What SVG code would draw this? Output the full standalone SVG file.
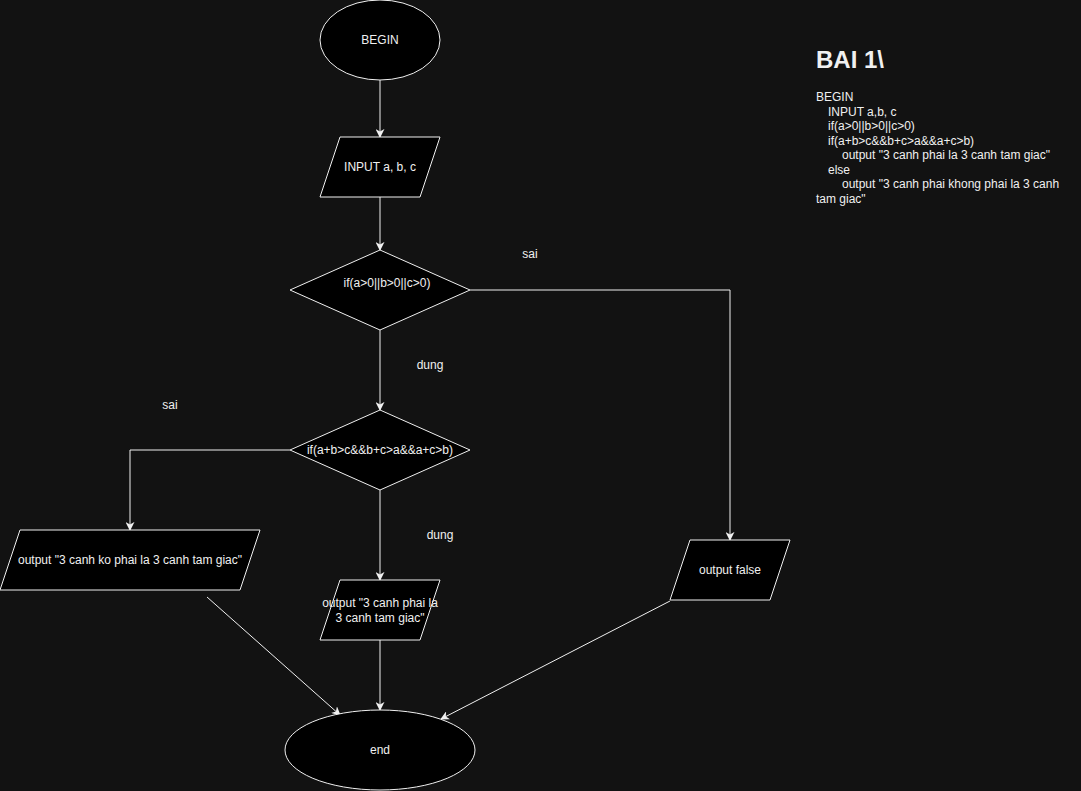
<svg xmlns="http://www.w3.org/2000/svg" width="1081" height="791" viewBox="0 0 1081 791">
<defs>
<style>
.shape{fill:#000;stroke:#f0f0f0;stroke-width:1}
.edge{fill:none;stroke:#f0f0f0;stroke-width:1}
text{font-family:"Liberation Sans",Arial,Helvetica,sans-serif;font-size:12px;fill:#f0f0f0}
.c{text-anchor:middle;dominant-baseline:central}
.title{font-size:24px;font-weight:bold}
</style>
<marker id="arr" viewBox="0 0 10 10" refX="9" refY="5" markerWidth="9" markerHeight="9" markerUnits="userSpaceOnUse" orient="auto">
<path d="M0,0 L10,5 L0,10 L3,5 Z" fill="#f0f0f0"/>
</marker>
</defs>
<rect width="1081" height="791" fill="#121212"/>
<g id="connectors">
<path class="edge" d="M380,80 L380,137" marker-end="url(#arr)"/>
<path class="edge" d="M380,197 L380,250" marker-end="url(#arr)"/>
<path class="edge" d="M380,330 L380,410" marker-end="url(#arr)"/>
<path class="edge" d="M470,290 L730,290 L730,540" marker-end="url(#arr)"/>
<path class="edge" d="M290,450 L130,450 L130,530" marker-end="url(#arr)"/>
<path class="edge" d="M380,490 L380,580" marker-end="url(#arr)"/>
<path class="edge" d="M380,640 L380,710" marker-end="url(#arr)"/>
<path class="edge" d="M207,597 L340,715" marker-end="url(#arr)"/>
<path class="edge" d="M670,601 L441,719" marker-end="url(#arr)"/>
<text class="c" x="530" y="254">sai</text>
<text class="c" x="430" y="365">dung</text>
<text class="c" x="170" y="405">sai</text>
<text class="c" x="440" y="535">dung</text>
</g>
<g id="begin">
<ellipse class="shape" cx="380" cy="40" rx="60" ry="40"/>
<text class="c" x="380" y="40">BEGIN</text>
</g>
<g id="input">
<polygon class="shape" points="340,137 440,137 420,197 320,197"/>
<text class="c" x="380" y="167">INPUT a, b, c</text>
</g>
<g id="cond1">
<polygon class="shape" points="380,250 470,290 380,330 290,290"/>
<text class="c" x="387" y="283">if(a&gt;0||b&gt;0||c&gt;0)</text>
</g>
<g id="cond2">
<polygon class="shape" points="380,410 470,450 380,490 290,450"/>
<text class="c" x="380" y="450">if(a+b&gt;c&amp;&amp;b+c&gt;a&amp;&amp;a+c&gt;b)</text>
</g>
<g id="out-ko">
<polygon class="shape" points="20,530 260,530 240,590 0,590"/>
<text class="c" x="130" y="560">output "3 canh ko phai la 3 canh tam giac"</text>
</g>
<g id="out-phai">
<polygon class="shape" points="340,580 440,580 420,640 320,640"/>
<text class="c" x="380" y="603">output "3 canh phai la</text>
<text class="c" x="380" y="618">3 canh tam giac"</text>
</g>
<g id="out-false">
<polygon class="shape" points="690,540 790,540 770,600 670,600"/>
<text class="c" x="730" y="570">output false</text>
</g>
<g id="end">
<ellipse class="shape" cx="380" cy="750" rx="95" ry="40"/>
<text class="c" x="380" y="750">end</text>
</g>
<g id="pseudocode">
<text class="title" x="816" y="68">BAI 1\</text>
<text x="816" y="101">BEGIN</text>
<text x="828" y="115.5">INPUT a,b, c</text>
<text x="828" y="130">if(a&gt;0||b&gt;0||c&gt;0)</text>
<text x="828" y="144.5">if(a+b&gt;c&amp;&amp;b+c&gt;a&amp;&amp;a+c&gt;b)</text>
<text x="842" y="159">output "3 canh phai la 3 canh tam giac"</text>
<text x="828" y="173.5">else</text>
<text x="842" y="188">output "3 canh phai khong phai la 3 canh</text>
<text x="816" y="202.5">tam giac"</text>
</g>
</svg>
